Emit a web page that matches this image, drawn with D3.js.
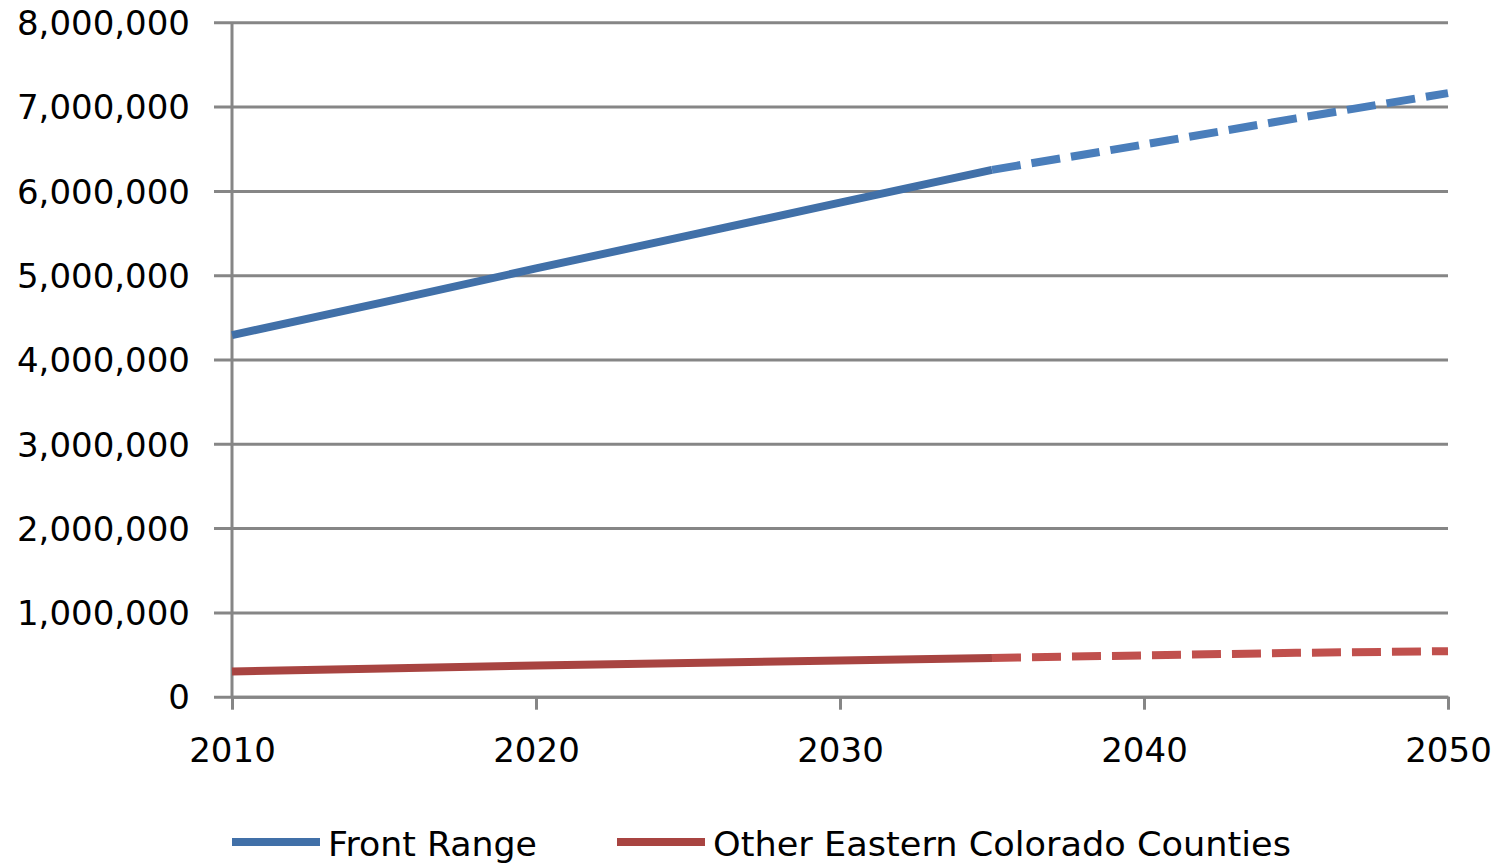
<!DOCTYPE html>
<html>
<head>
<meta charset="utf-8">
<script src="https://cdn.jsdelivr.net/npm/d3@7"></script>
<style>
  html, body { margin: 0; padding: 0; background: #fff; }
  svg { display: block; }
  text { font-family: "DejaVu Sans", Verdana, sans-serif; fill: #000; }
</style>
</head>
<body>
<svg id="chart" width="1499" height="863"></svg>
<script>
// Population by year (persons)
const years = [2010, 2015, 2020, 2025, 2030, 2035, 2040, 2045, 2050];
const frontRange = [4290000, 4680000, 5080000, 5470000, 5860000, 6250000, 6550000, 6860000, 7160000];
const otherEastern = [300000, 335000, 370000, 400000, 430000, 460000, 490000, 520000, 540000];
const projectionStart = 2035; // later values are forecasts (dashed)
const yTicks = [0, 1000000, 2000000, 3000000, 4000000, 5000000, 6000000, 7000000, 8000000];
const xTicks = [2010, 2020, 2030, 2040, 2050];
const seriesNames = ["Front Range", "Other Eastern Colorado Counties"];

const svg = d3.select("#chart");
const plot = { left: 232, right: 1448, top: 22.3, bottom: 696.7 };

const x = d3.scaleLinear().domain([2010, 2050]).range([plot.left, plot.right]);
const y = d3.scaleLinear().domain([0, 8000000]).range([plot.bottom, plot.top]);
const fmt = d3.format(",");
const gridColor = "#868686";

// horizontal gridlines with short outer ticks
const yAxis = d3.axisLeft(y).tickValues(yTicks).tickFormat(fmt)
  .tickSize(-(plot.right - plot.left)).tickSizeOuter(0).tickPadding(42);
const gy = svg.append("g").attr("transform", `translate(${plot.left},0)`).call(yAxis);
gy.select(".domain").remove();
gy.selectAll(".tick line").attr("x1", -18).attr("stroke", gridColor).attr("stroke-width", 3);
gy.selectAll(".tick text").style("font-size", "34px").attr("fill", "#000").attr("dy", "0.36em");

// vertical axis line
svg.append("line").attr("x1", plot.left).attr("x2", plot.left).attr("y1", plot.top).attr("y2", plot.bottom)
  .attr("stroke", gridColor).attr("stroke-width", 3);

// bottom axis
const xAxis = d3.axisBottom(x).tickValues(xTicks).tickFormat(d3.format("d"))
  .tickSize(13).tickSizeOuter(0).tickPadding(28);
const gx = svg.append("g").attr("transform", `translate(0,${plot.bottom})`).call(xAxis);
gx.select(".domain").attr("stroke", gridColor).attr("stroke-width", 3);
gx.selectAll(".tick line").attr("stroke", gridColor).attr("stroke-width", 3);
gx.selectAll(".tick text").style("font-size", "34px").attr("fill", "#000");

const line = d3.line().x(d => x(d[0])).y(d => y(d[1]));

const series = [
  { values: frontRange, solid: "#4170A8", dashed: "#4A7EBB" },
  { values: otherEastern, solid: "#A84441", dashed: "#C0504D" }
];

series.forEach(s => {
  const pts = years.map((yr, i) => [yr, s.values[i]]);
  const hist = pts.filter(p => p[0] <= projectionStart);
  const proj = pts.filter(p => p[0] >= projectionStart);
  svg.append("path").attr("d", line(proj)).attr("fill", "none")
    .attr("stroke", s.dashed).attr("stroke-width", 8)
    .attr("stroke-dasharray", "29,11");
  svg.append("path").attr("d", line(hist)).attr("fill", "none")
    .attr("stroke", s.solid).attr("stroke-width", 8);
});

// legend
const legendItems = [
  { name: seriesNames[0], color: "#4170A8", x0: 232, w: 209 },
  { name: seriesNames[1], color: "#A84441", x0: 617, w: 578 }
];
const lg = svg.append("g");
legendItems.forEach(it => {
  lg.append("line").attr("x1", it.x0).attr("x2", it.x0 + 88).attr("y1", 842).attr("y2", 842)
    .attr("stroke", it.color).attr("stroke-width", 8);
  lg.append("text").attr("x", it.x0 + 96).attr("y", 856).style("font-size", "34px")
    .attr("textLength", it.w).attr("lengthAdjust", "spacingAndGlyphs").text(it.name);
});
</script>
</body>
</html>
